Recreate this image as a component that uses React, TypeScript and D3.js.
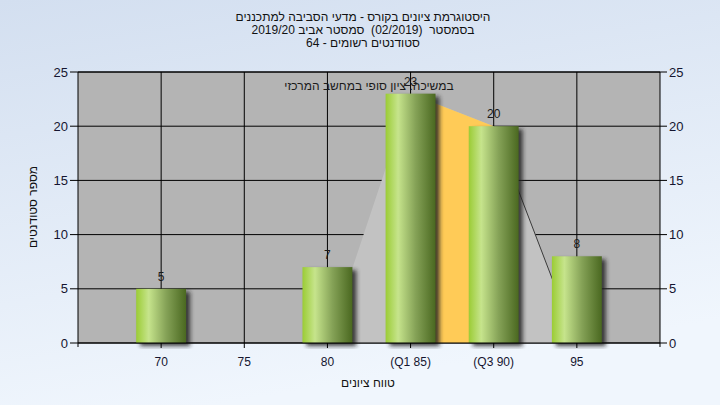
import React from "react";
import * as d3 from "d3";

const categories = [70, 75, 80, 85, 90, 95];
const categoryLabels = ["70", "75", "80", "(Q1 85)", "(Q3 90)", "95"];
const counts = [5, 0, 7, 23, 20, 8];
const yTicks = [0, 5, 10, 15, 20, 25];
const spreadX = [80, 85, 90, 95];
const spreadY = [0, 23, 20, 0];
const iqrX = [85, 90];
const iqrY = [23, 20];
const tailX = [90, 95];
const tailY = [20, 0];
const titleLines = [
  "היסטוגרמת ציונים בקורס - מדעי הסביבה למתכננים",
  "בסמסטר  (02/2019)  סמסטר אביב 2019/20",
  "סטודנטים רשומים - 64",
];
const legendText = "במשיכה: ציון סופי במחשב המרכזי";
const xTitle = "טווח ציונים";
const yTitle = "מספר סטודנטים";

const W = 720;
const H = 405;
const L = 78, R = 660, T = 72, B = 343;
const FONT = "'Liberation Sans', Arial, sans-serif";

export default function App() {
  const x = d3.scaleLinear().domain([65, 100]).range([L, R]);
  const y = d3.scaleLinear().domain([0, 25]).range([B, T]);
  const barW = x(68) - x(65);

  const area = d3
    .area<[number, number]>()
    .x((d) => x(d[0]))
    .y0(y(0))
    .y1((d) => y(d[1]));
  const line = d3
    .line<[number, number]>()
    .x((d) => x(d[0]))
    .y((d) => y(d[1]));

  const spread = spreadX.map((v, i) => [v, spreadY[i]] as [number, number]);
  const iqr = iqrX.map((v, i) => [v, iqrY[i]] as [number, number]);
  const tail = tailX.map((v, i) => [v, tailY[i]] as [number, number]);

  return (
    <svg
      width={W}
      height={H}
      style={{ position: "absolute", left: 0, top: 0 }}
      fontFamily={FONT}
    >
      <defs>
        <linearGradient id="bg" x1="0" y1="0" x2="0.3" y2="1">
          <stop offset="0" stopColor="#d3dff0" />
          <stop offset="1" stopColor="#f0f6fd" />
        </linearGradient>
        <linearGradient id="bar" x1="0" y1="0" x2="1" y2="0">
          <stop offset="0" stopColor="#9bcc35" />
          <stop offset="0.25" stopColor="#c6e48c" />
          <stop offset="0.6" stopColor="#85a257" />
          <stop offset="1" stopColor="#4a6820" />
        </linearGradient>
        <filter id="blur" x="-20%" y="-20%" width="140%" height="140%">
          <feGaussianBlur stdDeviation="2" />
        </filter>
        <clipPath id="plot">
          <rect x={L} y={T} width={R - L} height={B - T + 6} />
        </clipPath>
      </defs>
      <rect x={0} y={0} width={W} height={H} fill="url(#bg)" />
      <rect x={L} y={T} width={R - L} height={B - T} fill="#b4b4b4" />

      {/* grid */}
      {yTicks.map((t) => (
        <line key={"gy" + t} x1={L} x2={R} y1={y(t)} y2={y(t)} stroke="#000" strokeWidth={1} />
      ))}
      {categories.map((c) => (
        <line key={"gx" + c} x1={x(c)} x2={x(c)} y1={T} y2={B} stroke="#000" strokeWidth={1} />
      ))}

      {/* areas */}
      <path d={area(spread) || ""} fill="#c2c2c2" />
      <path d={area(iqr) || ""} fill="#ffcb57" />
      <path d={line(tail) || ""} fill="none" stroke="#3a3a3a" strokeWidth={1} />

      {/* bars */}
      <g clipPath="url(#plot)">
        {categories.map((c, i) =>
          counts[i] > 0 ? (
            <rect
              key={"s" + c}
              x={x(c) - barW / 2 + 4}
              y={y(counts[i]) + 3}
              width={barW}
              height={B - y(counts[i])}
              fill="#222"
              opacity={0.85}
              filter="url(#blur)"
            />
          ) : null
        )}
      </g>
      {categories.map((c, i) =>
        counts[i] > 0 ? (
          <rect
            key={"b" + c}
            x={x(c) - barW / 2}
            y={y(counts[i])}
            width={barW}
            height={B - y(counts[i])}
            fill="url(#bar)"
          />
        ) : null
      )}

      {/* axes */}
      <line x1={L} x2={L} y1={T} y2={B + 4} stroke="#000" />
      <line x1={R} x2={R} y1={T} y2={B + 4} stroke="#000" />
      <line x1={L} x2={R} y1={B} y2={B} stroke="#000" />
      <line x1={L} x2={R} y1={T} y2={T} stroke="#000" />
      {yTicks.map((t) => (
        <g key={"yt" + t}>
          <line x1={L - 8} x2={L} y1={y(t)} y2={y(t)} stroke="#000" />
          <line x1={R} x2={R + 7} y1={y(t)} y2={y(t)} stroke="#000" />
          <text x={L - 10} y={y(t)} dy="0.35em" textAnchor="end" fontSize={13} fill="#151530">
            {t}
          </text>
          <text x={R + 9} y={y(t)} dy="0.35em" textAnchor="start" fontSize={13} fill="#151530">
            {t}
          </text>
        </g>
      ))}
      {categories.map((c, i) => (
        <g key={"xt" + c}>
          <line x1={x(c)} x2={x(c)} y1={B} y2={B + 5} stroke="#000" />
          <text x={x(c)} y={362} dy="0.35em" textAnchor="middle" fontSize={12} fill="#151530" direction="ltr">
            {categoryLabels[i]}
          </text>
        </g>
      ))}

      {/* value labels */}
      {categories.map((c, i) =>
        counts[i] > 0 ? (
          <text
            key={"v" + c}
            x={x(c)}
            y={y(counts[i]) - 12}
            dy="0.35em"
            textAnchor="middle"
            fontSize={12}
            fill="#1a1a1a"
          >
            {counts[i]}
          </text>
        ) : null
      )}

      {/* legend annotation */}
      <text x={369} y={86} dy="0.35em" textAnchor="middle" fontSize={12} fill="#1a1a1a" direction="rtl">
        {legendText}
      </text>

      {/* titles */}
      {titleLines.map((t, i) => (
        <text
          key={"t" + i}
          x={363}
          y={17 + i * 13}
          dy="0.35em"
          textAnchor="middle"
          fontSize={12}
          fill="#111"
          direction="rtl"
          style={{ whiteSpace: "pre" }}
        >
          {t}
        </text>
      ))}
      <text x={368} y={383} dy="0.35em" textAnchor="middle" fontSize={12} fill="#111" direction="rtl">
        {xTitle}
      </text>
      <text
        transform={`translate(33,207) rotate(-90)`}
        dy="0.35em"
        textAnchor="middle"
        fontSize={12}
        fill="#111"
        direction="rtl"
      >
        {yTitle}
      </text>
    </svg>
  );
}
